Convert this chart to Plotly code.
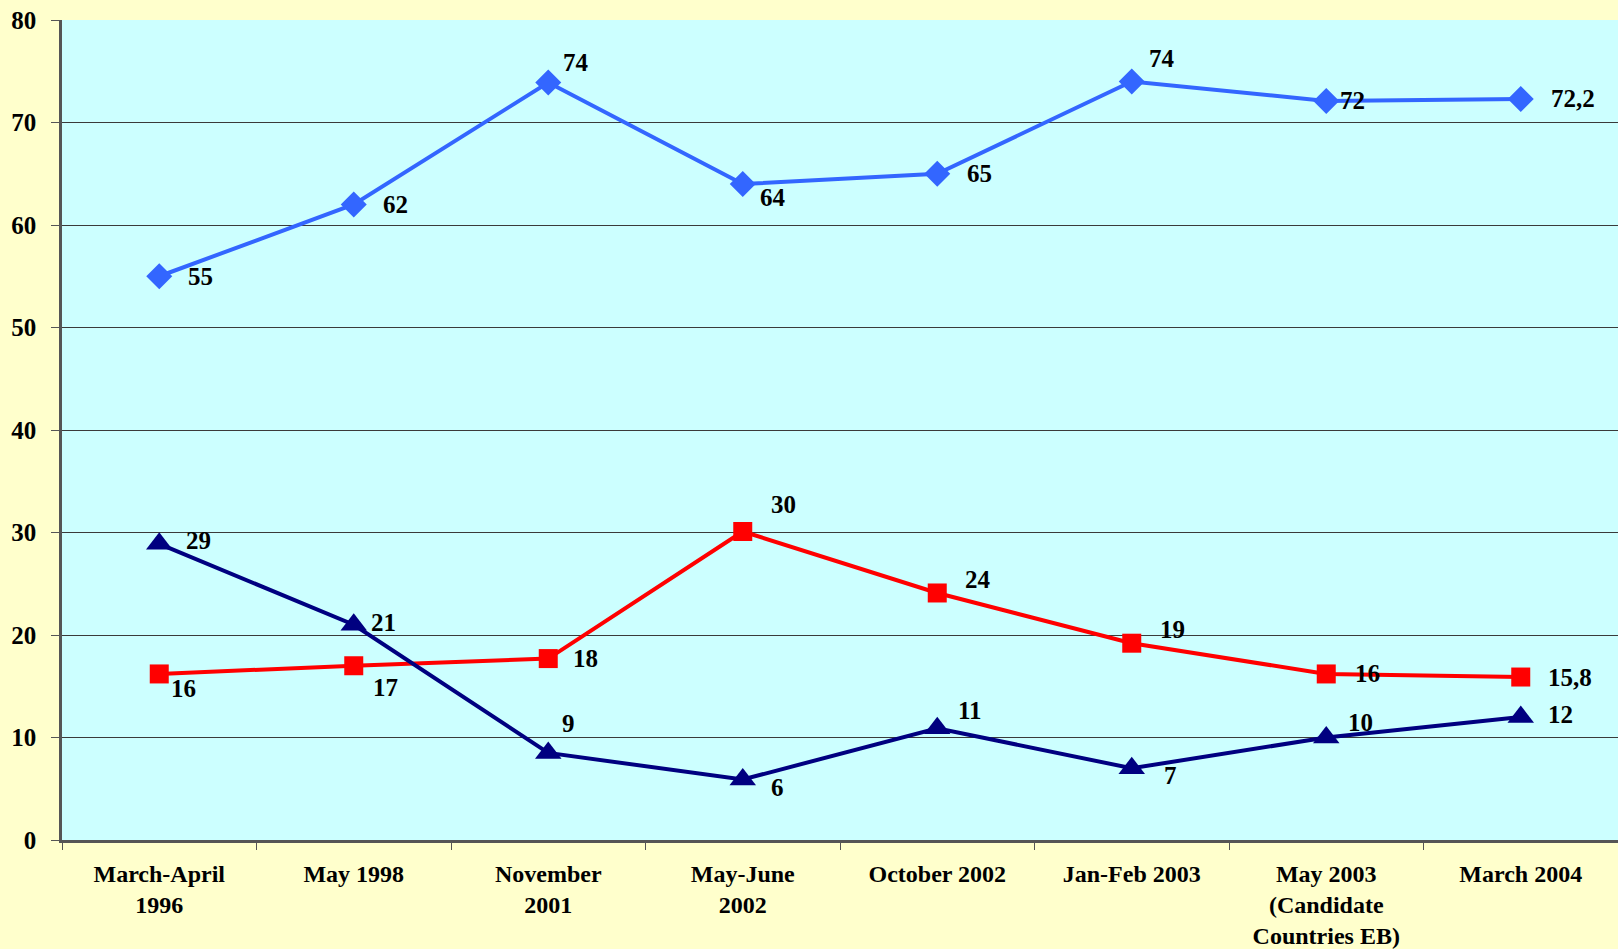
import plotly.graph_objects as go

categories = ["March-April<br>1996", "May 1998", "November<br>2001", "May-June<br>2002",
              "October 2002", "Jan-Feb 2003", "May 2003<br>(Candidate<br>Countries EB)", "March 2004"]

blue_values = [55, 62, 73.9, 64, 65, 74, 72.1, 72.3]
blue_labels = ["55", "62", "74", "64", "65", "74", "72", "72,2"]

red_values = [16.2, 17.0, 17.7, 30.1, 24.1, 19.2, 16.2, 15.9]
red_labels = ["16", "17", "18", "30", "24", "19", "16", "15,8"]

navy_values = [28.9, 21.0, 8.5, 5.9, 10.9, 7.0, 10.0, 12.0]
navy_labels = ["29", "21", "9", "6", "11", "7", "10", "12"]

# label placement offsets (pixels) relative to marker
blue_off = [(27, 0), (27, 0), (13, 20), (15, -13), (28, 0), (15, 23), (12, 0), (28, 0)]
red_off = [(10, -15), (17, -22), (23, 0), (26, 27), (26, 13), (26, 14), (27, 0), (25, 0)]
navy_off = [(25, 3), (15, 2), (12, 29), (26, -8), (19, 18), (30, -7), (20, 15), (25, 3)]

FONT = "Liberation Serif"

fig = go.Figure()
series = [
    (blue_values, blue_labels, blue_off, "#3366FF", "diamond", 20),
    (red_values, red_labels, red_off, "#FF0000", "square", 19),
    (navy_values, navy_labels, navy_off, "#000080", "triangle-up", 23),
]
for vals, labs, offs, col, sym, sz in series:
    fig.add_trace(go.Scatter(
        x=categories, y=vals, mode="lines+markers",
        line=dict(color=col, width=4),
        marker=dict(symbol=sym, size=sz, color=col),
        showlegend=False, hoverinfo="skip", cliponaxis=False,
    ))
    for xc, v, t, (dx, dy) in zip(categories, vals, labs, offs):
        fig.add_annotation(x=xc, y=v, text=t, showarrow=False,
                           xanchor="left", yanchor="middle",
                           xshift=dx, yshift=dy,
                           font=dict(family=FONT, size=25, color="black", weight="bold"))

fig.update_layout(
    width=1618, height=949,
    paper_bgcolor="#FFFFCC", plot_bgcolor="#CCFFFF",
    margin=dict(l=62, r=0, t=20, b=107),
    font=dict(family=FONT, color="black"),
)
fig.update_xaxes(
    type="category", range=[-0.5, 7.5], tickson="boundaries",
    showgrid=False, zeroline=False,
    showline=True, linecolor="#555555", linewidth=2.5,
    ticks="outside", ticklen=7, tickcolor="#555555", tickwidth=1,
    tickfont=dict(family=FONT, size=24, color="black", weight="bold"),
    ticklabelstandoff=10,
)
fig.update_yaxes(
    range=[0, 80], tickvals=[0, 10, 20, 30, 40, 50, 60, 70, 80],
    showgrid=True, gridcolor="#3a3a3a", gridwidth=1, zeroline=False,
    showline=True, linecolor="#555555", linewidth=2.5,
    ticks="outside", ticklen=8, tickcolor="#555555", tickwidth=1,
    tickfont=dict(family=FONT, size=25, color="black", weight="bold"),
    ticklabelstandoff=10,
)

fig.write_html("out.html", config={"displayModeBar": False},
               post_script="document.body.style.margin='0';document.body.style.padding='0';")
